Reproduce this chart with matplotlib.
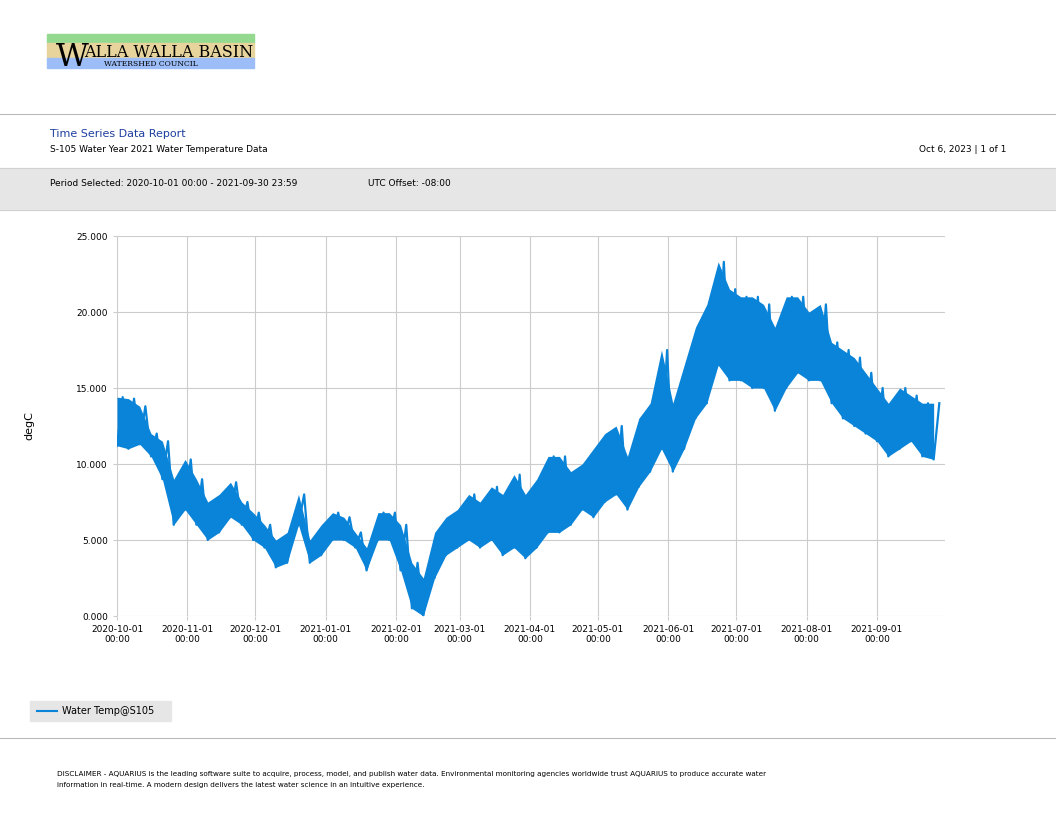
import matplotlib.pyplot as plt
import matplotlib.dates as mdates
import numpy as np
from matplotlib.patches import Rectangle

# 5-day slots starting 2020-10-01: approximate daily lows / highs (degC)
lows = [11.2, 11.0, 11.3, 10.5, 9.0, 6.0,
        7.0, 6.0, 5.0, 5.5, 6.5, 6.0,
        5.0, 4.5, 3.2, 3.5, 6.0, 3.5,
        4.0, 5.0, 5.0, 4.5, 3.0, 5.0,
        5.0, 3.0, 0.5, 0.0, 2.5, 4.0,
        4.5, 5.0, 4.5, 5.0, 4.0, 4.5,
        3.8, 4.5, 5.5, 5.5, 6.0, 7.0,
        6.5, 7.5, 8.0, 7.0, 8.5, 9.5,
        11.0, 9.5, 11.0, 13.0, 14.0, 16.5,
        15.5, 15.5, 15.0, 15.0, 13.5, 15.0,
        16.0, 15.5, 15.5, 14.0, 13.0, 12.5,
        12.0, 11.5, 10.5, 11.0, 11.5, 10.5, 10.3]
highs = [14.4, 14.3, 13.8, 12.0, 11.5, 9.0,
         10.3, 9.0, 7.5, 8.0, 8.8, 7.5,
         6.8, 6.0, 5.0, 5.5, 8.0, 5.0,
         6.0, 6.8, 6.5, 5.5, 4.5, 6.8,
         6.8, 6.0, 3.5, 2.5, 5.5, 6.5,
         7.0, 8.0, 7.5, 8.5, 8.0, 9.3,
         8.0, 9.0, 10.5, 10.5, 9.5, 10.0,
         11.0, 12.0, 12.5, 10.5, 13.0, 14.0,
         17.5, 14.0, 16.5, 19.0, 20.5, 23.3,
         21.5, 21.0, 21.0, 20.5, 19.0, 21.0,
         21.0, 20.0, 20.5, 18.0, 17.5, 17.0,
         16.0, 15.0, 14.0, 15.0, 14.5, 14.0, 14.0]

start = np.datetime64('2020-10-01T00:00')
t_lo = start + np.arange(len(lows)) * np.timedelta64(120, 'h')
t_hi = t_lo + np.timedelta64(60, 'h')
times = np.empty(2 * len(lows), dtype='datetime64[m]')
times[0::2] = t_lo
times[1::2] = t_hi
vals = np.empty(2 * len(lows))
vals[0::2] = lows
vals[1::2] = highs

fig = plt.figure(figsize=(10.56, 8.16), dpi=100)
W, H = 1056, 816

def fx(x): return x / W
def fy(y): return 1 - y / H

# logo
for y0, y1, c in [(34, 43, '#93d98f'), (43, 58, '#e6d49c'), (58, 68, '#9cbdf7')]:
    fig.patches.append(Rectangle((fx(47), fy(y1)), fx(254) - fx(47), fy(y0) - fy(y1),
                                 transform=fig.transFigure, color=c, zorder=0))
fig.text(fx(56), fy(66), 'W', family='DejaVu Serif', fontsize=23, va='baseline')
fig.text(fx(84), fy(57), 'ALLA WALLA BASIN', family='DejaVu Serif', fontsize=11.5, va='baseline')
fig.text(fx(104), fy(66), 'WATERSHED COUNCIL', family='DejaVu Serif', fontsize=5.5, va='baseline')

fig.add_artist(plt.Line2D([0, 1], [fy(114), fy(114)], color='#bbbbbb', lw=0.8))
fig.text(fx(50), fy(134), 'Time Series Data Report', color='#1f3f9f', fontsize=8, va='center')
fig.text(fx(50), fy(149), 'S-105 Water Year 2021 Water Temperature Data', fontsize=6.5, va='center')
fig.text(fx(1006), fy(149), 'Oct 6, 2023 | 1 of 1', fontsize=6.5, va='center', ha='right')
fig.patches.append(Rectangle((0, fy(210)), 1, fy(168) - fy(210), transform=fig.transFigure,
                             color='#e6e6e6', zorder=0))
fig.add_artist(plt.Line2D([0, 1], [fy(168), fy(168)], color='#cccccc', lw=0.6))
fig.add_artist(plt.Line2D([0, 1], [fy(210), fy(210)], color='#cccccc', lw=0.6))
fig.text(fx(50), fy(183), 'Period Selected: 2020-10-01 00:00 - 2021-09-30 23:59', fontsize=6.5, va='center')
fig.text(fx(368), fy(183), 'UTC Offset: -08:00', fontsize=6.5, va='center')

ax = fig.add_axes([fx(117), fy(616), fx(945) - fx(117), fy(236) - fy(616)])
ax.set_axisbelow(True)
ax.fill_between(t_lo, lows, highs, color='#0a84d8', lw=0)
ax.plot(times, vals, color='#0a84d8', lw=1.6)
ax.set_ylim(0, 25)
ax.set_yticks([0, 5, 10, 15, 20, 25])
ax.yaxis.set_major_formatter(plt.FormatStrFormatter('%.3f'))
ax.set_xlim(np.datetime64('2020-10-01'), np.datetime64('2021-09-30T23:59'))
ax.xaxis.set_major_locator(mdates.MonthLocator())
ax.xaxis.set_major_formatter(mdates.DateFormatter('%Y-%m-%d\n%H:%M'))
ax.grid(True, color='#cccccc', lw=0.8)
for s in ax.spines.values():
    s.set_visible(False)
ax.tick_params(length=3, color='#cccccc', labelsize=6.5)
for lbl in ax.get_xticklabels():
    lbl.set_ha('center')
ax.set_ylabel('degC', fontsize=8, labelpad=30)

# legend box
fig.patches.append(Rectangle((fx(30), fy(721)), fx(171) - fx(30), fy(701) - fy(721),
                             transform=fig.transFigure, color='#e6e6e6', zorder=0))
fig.add_artist(plt.Line2D([fx(37), fx(57)], [fy(711), fy(711)], color='#0a84d8', lw=1.5))
fig.text(fx(62), fy(711), 'Water Temp@S105', fontsize=7, va='center')

fig.add_artist(plt.Line2D([0, 1], [fy(738), fy(738)], color='#bbbbbb', lw=0.8))
fig.text(fx(57), fy(774), 'DISCLAIMER - AQUARIUS is the leading software suite to acquire, process, model, and publish water data. '
         'Environmental monitoring agencies worldwide trust AQUARIUS to produce accurate water', fontsize=5.2, va='center')
fig.text(fx(57), fy(785), 'information in real-time. A modern design delivers the latest water science in an intuitive experience.',
         fontsize=5.2, va='center')

fig.savefig('out.png', dpi=100)
